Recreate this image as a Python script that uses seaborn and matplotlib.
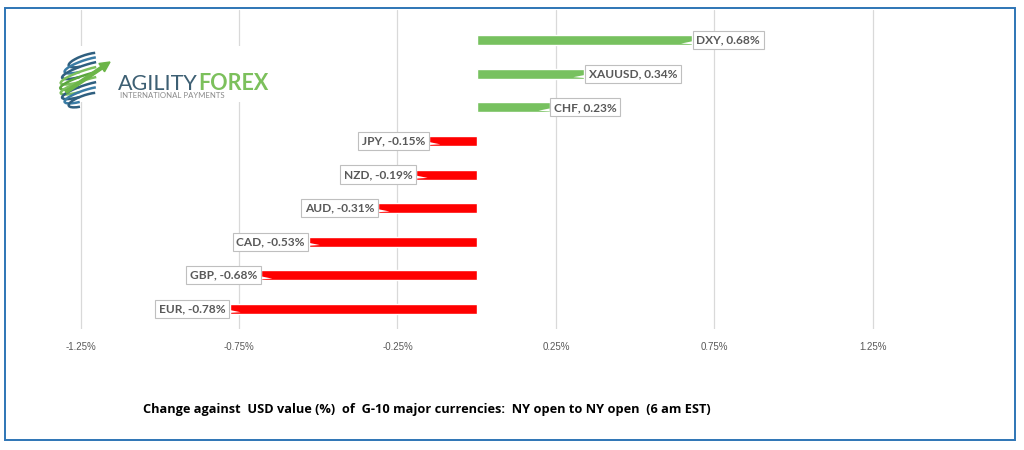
import numpy as np
import pandas as pd
import seaborn as sns
import matplotlib.pyplot as plt
from matplotlib.patches import Rectangle, Arc, FancyArrow

currencies = ['DXY', 'XAUUSD', 'CHF', 'JPY', 'NZD', 'AUD', 'CAD', 'GBP', 'EUR']
changes = [0.68, 0.34, 0.23, -0.15, -0.19, -0.31, -0.53, -0.68, -0.78]
tick_vals = [-1.25, -0.75, -0.25, 0.25, 0.75, 1.25]
tick_labels = ['-1.25%', '-0.75%', '-0.25%', '0.25%', '0.75%', '1.25%']
caption = 'Change against  USD value (%)  of  G-10 major currencies:  NY open to NY open  (6 am EST)'

df = pd.DataFrame({'currency': currencies, 'value': changes})
df['direction'] = np.where(df['value'] >= 0, 'up', 'down')

sns.set_style('white')
plt.rcParams['font.family'] = ['Lato', 'DejaVu Sans']

W, H = 1024, 450
fig = plt.figure(figsize=(W / 100, H / 100), dpi=100)

# chart area in pixels: left 41, right 952, top 10, bottom 329
ax = fig.add_axes([41 / W, (H - 329) / H, (952 - 41) / W, 319 / H])
sns.barplot(data=df, x='value', y='currency', hue='direction', order=currencies,
            palette={'up': '#77c15f', 'down': '#ff0000'}, dodge=False,
            width=0.3, legend=False, orient='h', ax=ax, saturation=1)

ax.set_xlim(-1.375, 1.5)
ax.set_ylim(8.6, -0.9)
ax.set_xticks(tick_vals)
ax.set_xticklabels(tick_labels, fontsize=7, color='#595959',
                   family=['Liberation Sans Narrow', 'Liberation Sans'])
ax.tick_params(axis='x', length=0, pad=9)
ax.set_yticks([])
ax.set_xlabel('')
ax.set_ylabel('')
ax.grid(axis='x', color='#d9d9d9', linewidth=0.9)
ax.set_axisbelow(True)
for s in ax.spines.values():
    s.set_visible(False)

# data callouts
for i, (c, v) in enumerate(zip(currencies, changes)):
    sgn = 1 if v >= 0 else -1
    ax.annotate(f'{c}, {v:.2f}%', xy=(v - sgn * 0.035, i + 0.1),
                xytext=(v + sgn * 0.013, i), textcoords='data',
                ha='left' if sgn > 0 else 'right', va='center',
                fontsize=8.6, fontweight='bold', color='#595959',
                bbox=dict(boxstyle='square,pad=0.3', fc='white', ec='#bfbfbf', lw=0.8),
                arrowprops=dict(arrowstyle='wedge,tail_width=0.25', fc='white',
                                ec='none', shrinkA=0, shrinkB=0))

# logo
lax = fig.add_axes([0, 0, 1, 1], zorder=5)
lax.set_xlim(0, W)
lax.set_ylim(H, 0)
lax.axis('off')
lax.add_patch(Rectangle((48, 46), 224, 56, fc='white', ec='none'))
cx, cy, R = 86, 80, 27
stripe_cols = ['#2f5f7f', '#3a7ca5', '#2f5f7f', '#7cc05c', '#5aa63f',
               '#7cc05c', '#2f5f7f', '#3a7ca5', '#2f5f7f']
for k, dy in enumerate(np.linspace(-20, 20, 9)):
    w = 2 * np.sqrt(R ** 2 - dy ** 2)
    lax.add_patch(Arc((cx, cy + dy), w, 10, angle=-18, theta1=150, theta2=340,
                      color=stripe_cols[k], lw=1.8))
lax.add_patch(FancyArrow(66, 92, 44, -30, width=3, head_width=10, head_length=10,
                         color='#6cb548', length_includes_head=True))

t1 = lax.text(118, 90, 'AGILITY', fontsize=15.5, color='#3d5f73',
              va='baseline', ha='left')
fig.canvas.draw()
bb = t1.get_window_extent()
lax.text(bb.x1 + 1, 90, 'FOREX', fontsize=15.5, color='#7cc05c', fontweight='bold',
         va='baseline', ha='left')
lax.text(120, 98, 'INTERNATIONAL PAYMENTS', fontsize=5.6, color='#8a8a8a',
         va='baseline', ha='left')

# caption and frame
lax.text(427, 410, caption, fontsize=9.2, fontweight='bold', color='black',
         ha='center', va='center', family=['Open Sans', 'DejaVu Sans'])
lax.add_patch(Rectangle((5, 8), 1010, 432, fc='none', ec='#2e75b6', lw=1.4))

fig.savefig('out.png', dpi=100)
